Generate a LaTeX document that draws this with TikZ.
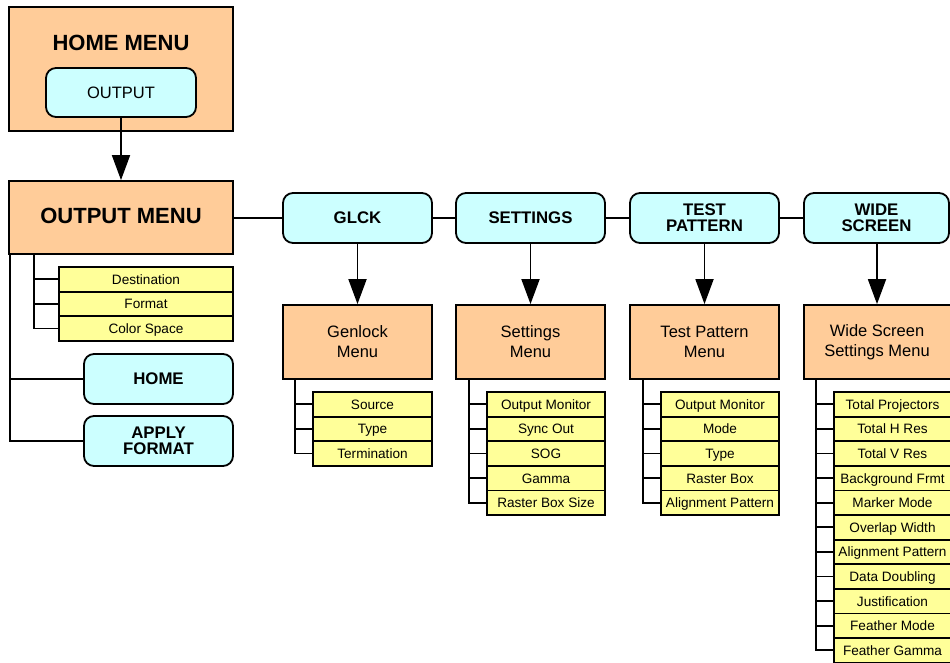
\documentclass[tikz,border=0pt]{standalone}
\usepackage{fontspec}
\setmainfont{Liberation Sans}
\usetikzlibrary{arrows.meta}
\definecolor{menuorange}{RGB}{255,204,153}
\definecolor{btncyan}{RGB}{204,255,255}
\definecolor{itemyellow}{RGB}{255,255,153}
\tikzset{
  box/.style={draw=black, line width=1.8pt, inner sep=0pt, align=center, text=black},
  menubox/.style={box, fill=menuorange},
  btnbox/.style={box, fill=btncyan, rounded corners=10pt, minimum width=149pt, minimum height=50pt},
  itemfont/.style={font=\fontsize{13.6}{15}\selectfont, text height=11.4pt, text depth=1.6pt},
  itembox/.style={box, fill=itemyellow, minimum height=24.6pt, itemfont},
  bigtitle/.style={font=\fontsize{22}{24}\selectfont\bfseries, inner sep=0pt},
  btnfont/.style={font=\fontsize{16.8}{16}\selectfont\bfseries},
  menufont/.style={font=\fontsize{16.5}{20}\selectfont},
  link/.style={draw=black, line width=1.8pt},
  arrowlink/.style={link, -{Triangle[width=18pt,length=25pt]}},
}
\begin{document}
\begin{tikzpicture}[x=1pt, y=-1pt]
\useasboundingbox (0,0) rectangle (950,662);
\clip (0,0) rectangle (950,662);
\fill[white] (0,0) rectangle (950,662);

% home menu with its output button
\node[menubox, minimum width=224pt, minimum height=124pt] (home) at (121,69) {};
\node[bigtitle] (hometitle) at (121,43) {HOME MENU};
\node[btnbox, minimum width=150pt, minimum height=49pt, font=\fontsize{16.5}{18}\selectfont] (outbtn) at (121,92.5) {OUTPUT};

% output menu
\node[menubox, minimum width=224pt, minimum height=73pt] (outmenu) at (121,217.5) {};
\node[bigtitle] (outtitle) at (121,216) {OUTPUT MENU};
\draw[arrowlink] (outbtn.south) -- (outmenu.north);

% output menu items
\foreach \t [count=\i] in {Destination,Format,Color Space}
  \node[itembox, minimum width=174pt] (o\i) at (146,{279.3+24.6*(\i-1)}) {\t};
\coordinate (ot) at (34,0);
\draw[link] (outmenu.south -| ot) |- (o3.west);
\foreach \i in {1,2} \draw[link] (o\i.west -| ot) -- (o\i.west);

% home / apply format buttons
\node[btnbox, btnfont] (homebtn) at (158.5,379) {HOME};
\node[btnbox, btnfont] (applybtn) at (158.5,441) {APPLY\\FORMAT};
\coordinate (at) at (10,0);
\draw[link] (outmenu.south -| at) |- (applybtn.west);
\draw[link] (homebtn.west -| at) -- (homebtn.west);

% top row of buttons
\node[btnbox, btnfont] (glck) at (357.5,218) {GLCK};
\node[btnbox, btnfont] (settings) at (530.5,218) {SETTINGS};
\node[btnbox, btnfont] (test) at (704.5,218) {TEST\\PATTERN};
\node[btnbox, btnfont, minimum width=145pt] (wide) at (876.5,218) {WIDE\\SCREEN};
\draw[link] (outmenu.east |- glck.west) -- (glck.west);
\draw[link] (glck.east) -- (settings.west);
\draw[link] (settings.east) -- (test.west);
\draw[link] (test.east) -- (wide.west);

% sub-menus
\node[menubox, menufont, minimum width=149pt, minimum height=74pt] (genmenu) at (357.5,342) {Genlock\\Menu};
\node[menubox, menufont, minimum width=149pt, minimum height=74pt] (setmenu) at (530.5,342) {Settings\\Menu};
\node[menubox, menufont, minimum width=149pt, minimum height=74pt] (testmenu) at (704.5,342) {Test Pattern\\Menu};
\node[menubox, minimum width=149pt, minimum height=74pt] (widemenu) at (878.5,342) {};
\node[menufont, align=center, inner sep=0pt] (widetitle) at (877,342) {Wide Screen\\Settings Menu};
\draw[arrowlink] (glck.south) -- (genmenu.north);
\draw[arrowlink] (settings.south) -- (setmenu.north);
\draw[arrowlink] (test.south) -- (testmenu.north);
\draw[arrowlink] (wide.south -| widetitle) -- (widetitle |- widemenu.north);

% genlock items
\foreach \t [count=\i] in {Source,Type,Termination}
  \node[itembox, minimum width=119pt] (g\i) at (372.5,{404.3+24.6*(\i-1)}) {\t};
\coordinate (gt) at (295,0);
\draw[link] (genmenu.south -| gt) |- (g3.west);
\foreach \i in {1,2} \draw[link] (g\i.west -| gt) -- (g\i.west);

% settings items
\foreach \t [count=\i] in {Output Monitor,Sync Out,SOG,Gamma,Raster Box Size}
  \node[itembox, minimum width=118pt] (s\i) at (546,{404.3+24.6*(\i-1)}) {\t};
\coordinate (st) at (469,0);
\draw[link] (setmenu.south -| st) |- (s5.west);
\foreach \i in {1,...,4} \draw[link] (s\i.west -| st) -- (s\i.west);

% test pattern items
\foreach \t [count=\i] in {Output Monitor,Mode,Type,Raster Box,Alignment Pattern}
  \node[itembox, minimum width=118pt] (t\i) at (720,{404.3+24.6*(\i-1)}) {\t};
\coordinate (tt) at (643,0);
\draw[link] (testmenu.south -| tt) |- (t5.west);
\foreach \i in {1,...,4} \draw[link] (t\i.west -| tt) -- (t\i.west);

% wide screen items (boxes run past the right edge)
\foreach \i in {1,...,11}
  \node[itembox, minimum width=120pt] (w\i) at (894,{404.3+24.6*(\i-1)}) {};
\foreach \t [count=\i] in {Total Projectors,Total H Res,Total V Res,Background Frmt,Marker Mode,Overlap Width,Alignment Pattern,Data Doubling,Justification,Feather Mode,Feather Gamma}
  \node[itemfont, inner sep=0pt] (wl\i) at (892.5,{404.3+24.6*(\i-1)}) {\t};
\coordinate (wt) at (816,0);
\draw[link] (widemenu.south -| wt) |- (w11.west);
\foreach \i in {1,...,10} \draw[link] (w\i.west -| wt) -- (w\i.west);
\end{tikzpicture}
\end{document}
